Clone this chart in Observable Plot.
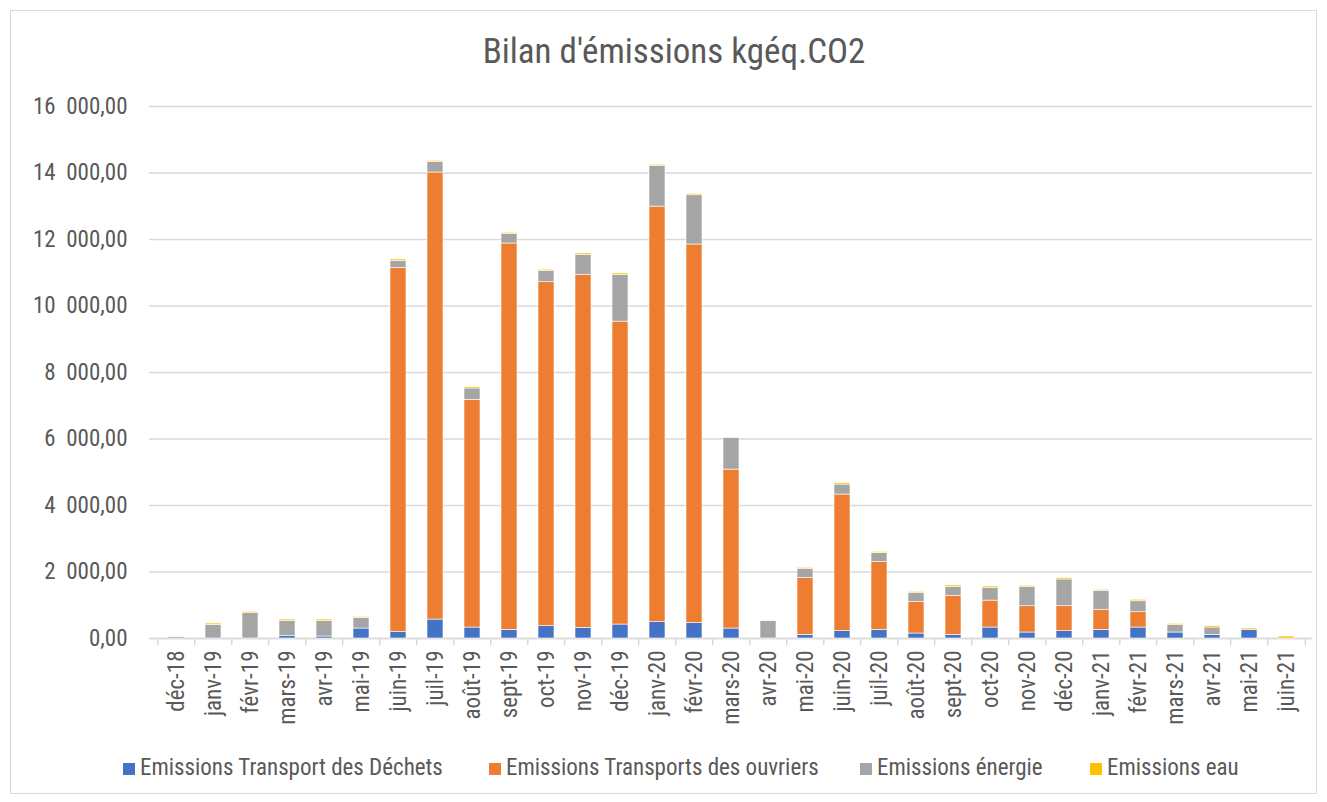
<!DOCTYPE html>
<html>
<head>
<meta charset="utf-8">
<script src="https://cdn.jsdelivr.net/npm/d3@7"></script>
<script src="https://cdn.jsdelivr.net/npm/@observablehq/plot@0.6"></script>
<style>
  html, body { margin: 0; padding: 0; background: #fff; }
  body { width: 1327px; height: 802px; position: relative; overflow: hidden;
         font-family: "Liberation Sans Narrow", "Arial Narrow", "Roboto Condensed", "DejaVu Sans Condensed", sans-serif; color: #595959; }
  #frame { position: absolute; left: 10px; top: 10px; width: 1307px; height: 784px; border: 1px solid #d9d9d9; box-sizing: border-box; }
  #title { position: absolute; left: 20px; width: 1308px; top: 31px; text-align: center; font-size: 35px; color: #595959; }
  #chart { position: absolute; left: 0; top: 0; }
  #legend { position: absolute; top: 753px; left: 0; width: 1327px; height: 30px; }
  .item { position: absolute; top: 0; font-size: 23px; white-space: nowrap; line-height: 30px; }
  .sw { display: inline-block; width: 12px; height: 12px; margin-right: 5px; vertical-align: 0px; }
</style>
</head>
<body>
<div id="frame"></div>
<div id="title">Bilan d'émissions kgéq.CO2</div>
<div id="chart"></div>
<div id="legend"></div>
<script>
const months = ["déc-18","janv-19","févr-19","mars-19","avr-19","mai-19","juin-19","juil-19","août-19","sept-19","oct-19","nov-19","déc-19","janv-20","févr-20","mars-20","avr-20","mai-20","juin-20","juil-20","août-20","sept-20","oct-20","nov-20","déc-20","janv-21","févr-21","mars-21","avr-21","mai-21","juin-21"];

const seriesNames = ["Emissions Transport des Déchets", "Emissions Transports des ouvriers", "Emissions énergie", "Emissions eau"];
const seriesColors = ["#4472C4", "#ED7D31", "#A5A5A5", "#FFC000"];

const dechets  = [0, 0, 0, 70, 60, 300, 190, 570, 330, 260, 370, 320, 420, 490, 460, 300, 0, 110, 220, 260, 150, 110, 330, 180, 220, 260, 330, 180, 110, 260, 0];
const ouvriers = [0, 0, 0, 0, 0, 0, 10950, 13445, 6850, 11620, 10345, 10620, 9110, 12500, 11390, 4780, 0, 1715, 4110, 2045, 950, 1175, 810, 790, 750, 605, 460, 0, 0, 0, 0];
const energie  = [50, 410, 760, 460, 470, 320, 220, 310, 340, 280, 335, 600, 1410, 1215, 1480, 955, 530, 260, 300, 270, 265, 270, 385, 575, 805, 570, 330, 220, 220, 0, 0];
const eau      = [5, 40, 40, 40, 40, 30, 40, 40, 40, 40, 40, 40, 40, 40, 40, 10, 5, 40, 40, 30, 35, 40, 40, 40, 40, 30, 45, 40, 40, 40, 60];

const yTicks = [0, 2000, 4000, 6000, 8000, 10000, 12000, 14000, 16000];

const allSeries = [dechets, ouvriers, energie, eau];
const data = [];
allSeries.forEach((vals, si) => {
  vals.forEach((v, i) => data.push({month: months[i], series: seriesNames[si], value: v}));
});

const fr = d3.formatLocale({decimal: ",", thousands: "\u00a0\u00a0", grouping: [3], currency: ["", "€"]});
const fmt = fr.format(",.2f");

const W = 1327, H = 740, mL = 149, mR = 15, mT = 106, mB = H - 638;
const step = (W - mL - mR) / months.length;

const chart = Plot.plot({
  width: W,
  height: H,
  marginLeft: mL,
  marginRight: mR,
  marginTop: mT,
  marginBottom: mB,
  style: {fontFamily: '"Liberation Sans Narrow", "Arial Narrow", "Roboto Condensed", "DejaVu Sans Condensed", sans-serif', color: "#595959", background: "transparent"},
  x: {type: "band", domain: months, paddingInner: 0.58, paddingOuter: 0.29, label: null},
  y: {domain: [0, 16000], label: null},
  color: {domain: seriesNames, range: seriesColors},
  marks: [
    Plot.gridY(yTicks, {stroke: "#d9d9d9", strokeOpacity: 1, strokeWidth: 1.5}),
    Plot.ruleY([0], {stroke: "#d9d9d9", strokeWidth: 1.5}),
    Plot.ruleX(months, {x: d => d, y1: 0, y2: 0, insetBottom: -7, dx: -step / 2, stroke: "#d9d9d9", strokeWidth: 1.5}),
    Plot.ruleX([months[months.length - 1]], {x: d => d, y1: 0, y2: 0, insetBottom: -7, dx: step / 2, stroke: "#d9d9d9", strokeWidth: 1.5}),
    Plot.barY(data, {x: "month", y: "value", fill: "series", stroke: "white", strokeWidth: 0.6}),
    Plot.axisY(yTicks, {tickFormat: fmt, tickSize: 0, tickPadding: 22, fontSize: 23, fill: "#595959"}),
    Plot.axisX({tickSize: 0, tickRotate: -90, tickPadding: 12, fontSize: 23, fill: "#595959"})
  ]
});
document.getElementById("chart").appendChild(chart);

const legendPos = [123, 489, 860, 1090];
const legend = document.getElementById("legend");
seriesNames.forEach((name, i) => {
  const it = document.createElement("div");
  it.className = "item";
  it.style.left = legendPos[i] + "px";
  it.innerHTML = `<span class="sw" style="background:${seriesColors[i]}"></span>${name}`;
  legend.appendChild(it);
});
</script>
</body>
</html>
